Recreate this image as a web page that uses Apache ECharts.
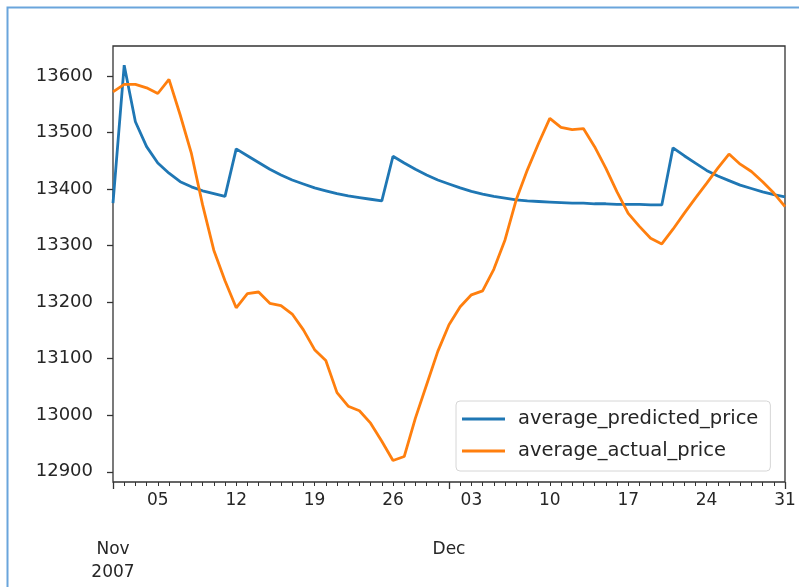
<!DOCTYPE html>
<html>
<head>
<meta charset="utf-8">
<script src="https://cdn.jsdelivr.net/npm/echarts@6/dist/echarts.min.js"></script>
<style>
  html, body { margin: 0; padding: 0; background: #ffffff; }
  #chart { width: 799px; height: 587px; }
</style>
</head>
<body>
<div id="chart"></div>
<script>
// ---- data ----
var dates = [
  '2007-11-01','2007-11-02','2007-11-03','2007-11-04','2007-11-05','2007-11-06','2007-11-07','2007-11-08','2007-11-09','2007-11-10',
  '2007-11-11','2007-11-12','2007-11-13','2007-11-14','2007-11-15','2007-11-16','2007-11-17','2007-11-18','2007-11-19','2007-11-20',
  '2007-11-21','2007-11-22','2007-11-23','2007-11-24','2007-11-25','2007-11-26','2007-11-27','2007-11-28','2007-11-29','2007-11-30',
  '2007-12-01','2007-12-02','2007-12-03','2007-12-04','2007-12-05','2007-12-06','2007-12-07','2007-12-08','2007-12-09','2007-12-10',
  '2007-12-11','2007-12-12','2007-12-13','2007-12-14','2007-12-15','2007-12-16','2007-12-17','2007-12-18','2007-12-19','2007-12-20',
  '2007-12-21','2007-12-22','2007-12-23','2007-12-24','2007-12-25','2007-12-26','2007-12-27','2007-12-28','2007-12-29','2007-12-30',
  '2007-12-31'
];

var averagePredictedPrice = [
  13375, 13619, 13519, 13475, 13446, 13428, 13413, 13404, 13397, 13392,
  13387, 13471, 13459, 13447, 13435, 13425, 13416, 13409, 13402, 13397,
  13392, 13388, 13385, 13382, 13379, 13458, 13446, 13435, 13425, 13416,
  13409, 13402, 13396, 13391, 13387, 13384, 13381, 13379, 13378, 13377,
  13376, 13375, 13375, 13374, 13374, 13373, 13373, 13373, 13372, 13372,
  13473, 13459, 13446, 13433, 13423, 13415, 13407, 13401, 13395, 13390,
  13386
];

var averageActualPrice = [
  13572, 13585, 13585, 13579, 13569, 13594, 13531, 13463, 13372, 13292,
  13238, 13190, 13215, 13218, 13198, 13194, 13179, 13151, 13116, 13097,
  13040, 13016, 13008, 12986, 12954, 12920, 12927, 12995, 13054, 13113,
  13160, 13192, 13213, 13220, 13258, 13310, 13381, 13434, 13481, 13525,
  13509, 13505, 13507, 13475, 13437, 13395, 13357, 13334, 13313, 13303,
  13329, 13357, 13384, 13410, 13437, 13462, 13444, 13431, 13413, 13393,
  13369
];

var seriesNames = ['average_predicted_price', 'average_actual_price'];

// tick labels
var weekTickDates = ['2007-11-05','2007-11-12','2007-11-19','2007-11-26','2007-12-03','2007-12-10','2007-12-17','2007-12-24','2007-12-31'];
var weekTickLabels = ['05','12','19','26','03','10','17','24','31'];
var monthTickDates = ['2007-11-01','2007-12-01'];
var monthTickLabels = ['Nov\n2007','Dec'];
var yTickValues = [12900, 13000, 13100, 13200, 13300, 13400, 13500, 13600];
var yTickLabels = ['12900', '13000', '13100', '13200', '13300', '13400', '13500', '13600'];

// ---- chart ----
var chart = echarts.init(document.getElementById('chart'), null, { renderer: 'canvas' });
var FONT = 'DejaVu Sans';
var TXT = '#262626';

var option = {
  animation: false,
  backgroundColor: '#ffffff',
  graphic: [{
    type: 'rect',
    shape: { x: 7.5, y: 7.5, width: 830, height: 620 },
    style: { fill: 'none', stroke: '#6aa5dc', lineWidth: 2 },
    z: 100,
    silent: true
  }],
  grid: {
    left: 113, top: 46, right: 14, bottom: 105,
    show: true, borderColor: '#333333', borderWidth: 1.3,
    backgroundColor: 'transparent',
    containLabel: false
  },
  legend: {
    data: seriesNames,
    orient: 'vertical',
    left: 456, top: 401,
    icon: 'rect',
    itemWidth: 43, itemHeight: 3,
    itemGap: 10,
    padding: [7, 12, 9, 6],
    backgroundColor: 'rgba(255,255,255,0.85)',
    borderColor: '#d6d6d6', borderWidth: 1, borderRadius: 4,
    textStyle: { fontFamily: FONT, fontSize: 19.5, color: TXT, lineHeight: 22, padding: [0, 0, 0, 8] }
  },
  xAxis: [
    {
      type: 'category',
      data: dates,
      boundaryGap: false,
      position: 'bottom',
      axisLine: { show: false },
      axisTick: { show: true, interval: 0, length: 4, lineStyle: { color: '#333333', width: 1 } },
      axisLabel: {
        show: true,
        interval: function (idx, val) { return weekTickDates.indexOf(val) >= 0; },
        formatter: function (val) { var i = weekTickDates.indexOf(val); return i >= 0 ? weekTickLabels[i] : ''; },
        fontFamily: FONT, fontSize: 17, color: TXT, margin: 10
      },
      splitLine: { show: false }
    },
    {
      type: 'category',
      data: dates,
      boundaryGap: false,
      position: 'bottom',
      axisLine: { show: false },
      axisTick: {
        show: true, length: 7,
        interval: function (idx, val) { return monthTickDates.indexOf(val) >= 0 || idx === dates.length - 1; },
        lineStyle: { color: '#333333', width: 1.3 }
      },
      axisLabel: {
        show: true,
        interval: function (idx, val) { return monthTickDates.indexOf(val) >= 0; },
        formatter: function (val) { var i = monthTickDates.indexOf(val); return i >= 0 ? monthTickLabels[i] : ''; },
        fontFamily: FONT, fontSize: 17, color: TXT, margin: 56, lineHeight: 23
      },
      splitLine: { show: false }
    }
  ],
  yAxis: {
    type: 'value',
    min: 12882,
    max: 13653,
    axisLine: { show: false },
    axisTick: { show: true, length: 6, customValues: yTickValues, lineStyle: { color: '#333333', width: 1.3 } },
    axisLabel: {
      show: true, customValues: yTickValues,
      formatter: function (v) { var i = yTickValues.indexOf(v); return i >= 0 ? yTickLabels[i] : String(v); },
      fontFamily: FONT, fontSize: 18, color: TXT, margin: 20
    },
    splitLine: { show: false }
  },
  series: [
    {
      name: seriesNames[0], type: 'line', data: averagePredictedPrice,
      xAxisIndex: 0, showSymbol: false, symbol: 'none',
      lineStyle: { color: '#1f77b4', width: 2.8 }, itemStyle: { color: '#1f77b4' }, z: 3
    },
    {
      name: seriesNames[1], type: 'line', data: averageActualPrice,
      xAxisIndex: 0, showSymbol: false, symbol: 'none',
      lineStyle: { color: '#ff7f0e', width: 2.8 }, itemStyle: { color: '#ff7f0e' }, z: 4
    }
  ]
};
chart.setOption(option);
</script>
</body>
</html>
